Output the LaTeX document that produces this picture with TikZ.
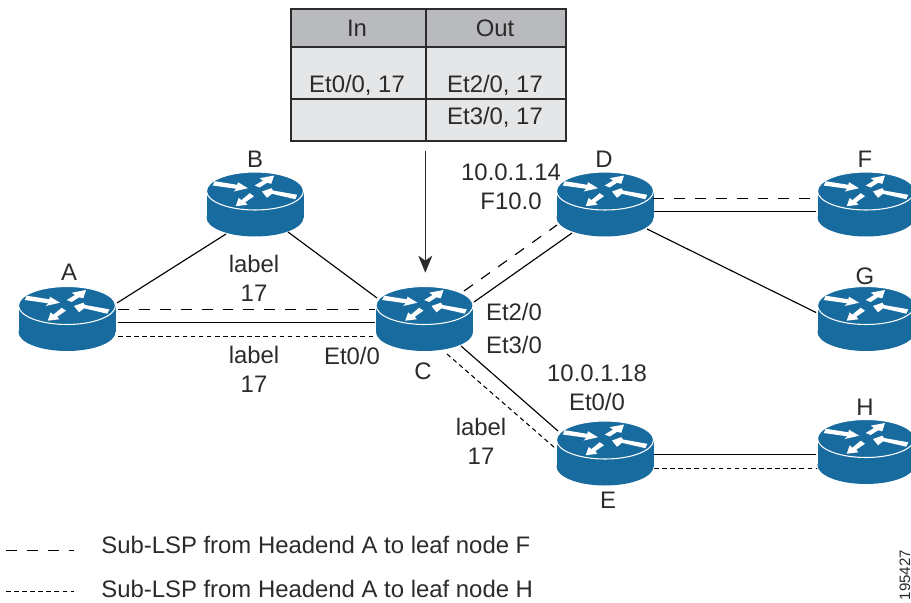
\documentclass[tikz,border=0pt]{standalone}
\usepackage{fontspec}
\setmainfont{Liberation Sans}
\usetikzlibrary{arrows.meta,calc}
\definecolor{routerblue}{HTML}{176B9F}
\definecolor{inkgray}{HTML}{2B2B2B}
\definecolor{headgray}{HTML}{B9BABD}
\definecolor{cellgray}{HTML}{E5E6E8}

\begin{document}
\begin{tikzpicture}
    [x=0.02cm,y=-0.02cm,>={Stealth[length=3.4mm,width=2.8mm,inset=1mm]},
    txt/.style={align=center,inner sep=0pt,text=inkgray,font=\fontsize{13.6}{16.6}\selectfont},
    routerbox/.style={minimum width=1.94cm,minimum height=1.3cm,inner sep=0pt},
    cellbox/.style={draw=inkgray,line width=0.8pt,inner sep=0pt},
    link/.style={line width=0.65pt},
    longdash/.style={line width=0.65pt,dash pattern=on 6.2pt off 5.7pt},
    shortdash/.style={line width=0.6pt,dash pattern=on 2.6pt off 2pt},
    router/.pic={
        \fill[routerblue] (-48.5,-13) rectangle (48.5,13.5);
        \fill[routerblue] (0,13.5) ellipse [x radius=0.97cm,y radius=0.38cm];
        \filldraw[routerblue,draw=white,line width=0.6pt] (0,-13) ellipse [x radius=0.97cm,y radius=0.38cm];
        \fill[white] (-40.3,-22.8) -- (-42.3,-18.5) -- (-18.7,-15.2) -- (-21.3,-12.5) -- (-7,-15.8) -- (-17,-21.8) -- (-17.7,-19.2) -- cycle;
        \fill[white] (-0.3,-18.5) -- (4.7,-16.5) -- (12,-21.2) -- (16.3,-20.2) -- (19,-28.5) -- (4.7,-25.8) -- (8,-23.5) -- cycle;
        \fill[white] (-5.3,-10.8) -- (-1,-7.8) -- (-9.7,-1.8) -- (-7.7,0.8) -- (-19.3,2.2) -- (-16.3,-6.2) -- (-13.7,-3.8) -- cycle;
        \fill[white] (42.3,-9.2) -- (40.3,-4.8) -- (17,-10.2) -- (12,-6.2) -- (7,-12.5) -- (16.3,-15.8) -- (18,-13.5) -- cycle;
    }]

    \useasboundingbox (0,0) rectangle (911,602);

    % routers
    \foreach \name/\x/\y in {A/67/318.5,B/255/204,C/424.5/318.5,D/605/204,E/605/453,F/866/204,G/866/318.5,H/866/451.5}{
        \node[routerbox] (\name) at (\x,\y) {};
        \pic at (\name) {router};
    }

    % table
    \node[cellbox,fill=headgray,minimum width=2.7cm,minimum height=0.76cm] (headin) at (358.5,28) {};
    \node[cellbox,fill=headgray,minimum width=2.8cm,minimum height=0.76cm] (headout) at (496,28) {};
    \node[cellbox,fill=cellgray,minimum width=2.7cm,minimum height=1.04cm] (inrowa) at (358.5,73) {};
    \node[cellbox,fill=cellgray,minimum width=2.8cm,minimum height=1.04cm] (outrowa) at (496,73) {};
    \node[cellbox,fill=cellgray,minimum width=2.7cm,minimum height=0.84cm] (inrowb) at (358.5,120) {};
    \node[cellbox,fill=cellgray,minimum width=2.8cm,minimum height=0.84cm] (outrowb) at (496,120) {};

    \node[txt] (textin) at (357,28) {In};
    \node[txt] (textout) at (495,28) {Out};
    \node[txt] (textina) at (357,85) {Et0/0, 17};
    \node[txt] (textouta) at (495,85) {Et2/0, 17};
    \node[txt] (textoutb) at (495,117) {Et3/0, 17};

    \draw[link,inkgray,->,shorten <=0.18cm,shorten >=0.26cm] (outrowb.south west) -- (outrowb.south west |- C.north);

    % links
    \draw[link] ([shift={(50,-15.5)}]A.center) -- ([shift={(-29,30)}]B.center);
    \draw[link] ([shift={(33,28)}]B.center) -- ([shift={(-47.5,-20.5)}]C.center);
    \draw[longdash] ([shift={(51,-9)}]A.center) -- ([shift={(-50,-9)}]C.center);
    \draw[link] ([shift={(51,4)}]A.center) -- ([shift={(-50,4)}]C.center);
    \draw[shortdash] ([shift={(51,18)}]A.center) -- ([shift={(-50,18)}]C.center);

    \draw[longdash] ([shift={(39.5,-27.5)}]C.center) -- ([shift={(-48,21)}]D.center);
    \draw[link] ([shift={(49.5,-16.5)}]C.center) -- ([shift={(-33,29)}]D.center);
    \draw[link] ([shift={(36.5,27.5)}]C.center) -- ([shift={(-47,-22)}]E.center);
    \draw[shortdash] ([shift={(22.5,35.5)}]C.center) -- ([shift={(-50,-5)}]E.center);

    \draw[longdash] ([shift={(48,-5.5)}]D.center) -- ([shift={(-56,-5.5)}]F.center);
    \draw[link] ([shift={(49,7.5)}]D.center) -- ([shift={(-50,7.5)}]F.center);
    \draw[link] ([shift={(42,25)}]D.center) -- ([shift={(-50,-6)}]G.center);
    \draw[link] ([shift={(49,1.5)}]E.center) -- ([shift={(-50,3)}]H.center);
    \draw[shortdash] ([shift={(49,15.5)}]E.center) -- ([shift={(-49,17)}]H.center);

    % router names
    \node[txt] (nameA) at (69,272) {A};
    \node[txt] (nameB) at (255,159) {B};
    \node[txt] (nameC) at (423,371) {C};
    \node[txt] (nameD) at (604,159) {D};
    \node[txt] (nameE) at (608,500) {E};
    \node[txt] (nameF) at (865,159) {F};
    \node[txt] (nameG) at (865,276) {G};
    \node[txt] (nameH) at (865,407) {H};

    % link texts
    \node[txt] (labelab) at (254,278) {label\\17};
    \node[txt] (labelac) at (254,369) {label\\17};
    \node[txt] (labelce) at (481,441) {label\\17};
    \node[txt] (ifcin) at (352,356) {Et0/0};
    \node[txt] (ifctwo) at (514,312) {Et2/0};
    \node[txt] (ifcthree) at (514,345) {Et3/0};
    \node[txt] (addrd) at (511,187) {10.0.1.14\\F10.0};
    \node[txt] (addre) at (597,388) {10.0.1.18\\Et0/0};

    % legend
    \coordinate (keyastart) at (6,550.5);
    \coordinate (keyaend) at (74,550.5);
    \coordinate (keybstart) at (6,591.5);
    \coordinate (keybend) at (74,591.5);
    \draw[longdash] (keyastart) -- (keyaend);
    \draw[shortdash] (keybstart) -- (keybend);
    \node[txt,anchor=west] (keyatext) at (101,545) {Sub-LSP from Headend A to leaf node F};
    \node[txt,anchor=west] (keybtext) at (101,589) {Sub-LSP from Headend A to leaf node H};

    \node[txt,rotate=90,font=\fontsize{8.6}{9}\selectfont] (figid) at (905,575) {195427};

\end{tikzpicture}
\end{document}
